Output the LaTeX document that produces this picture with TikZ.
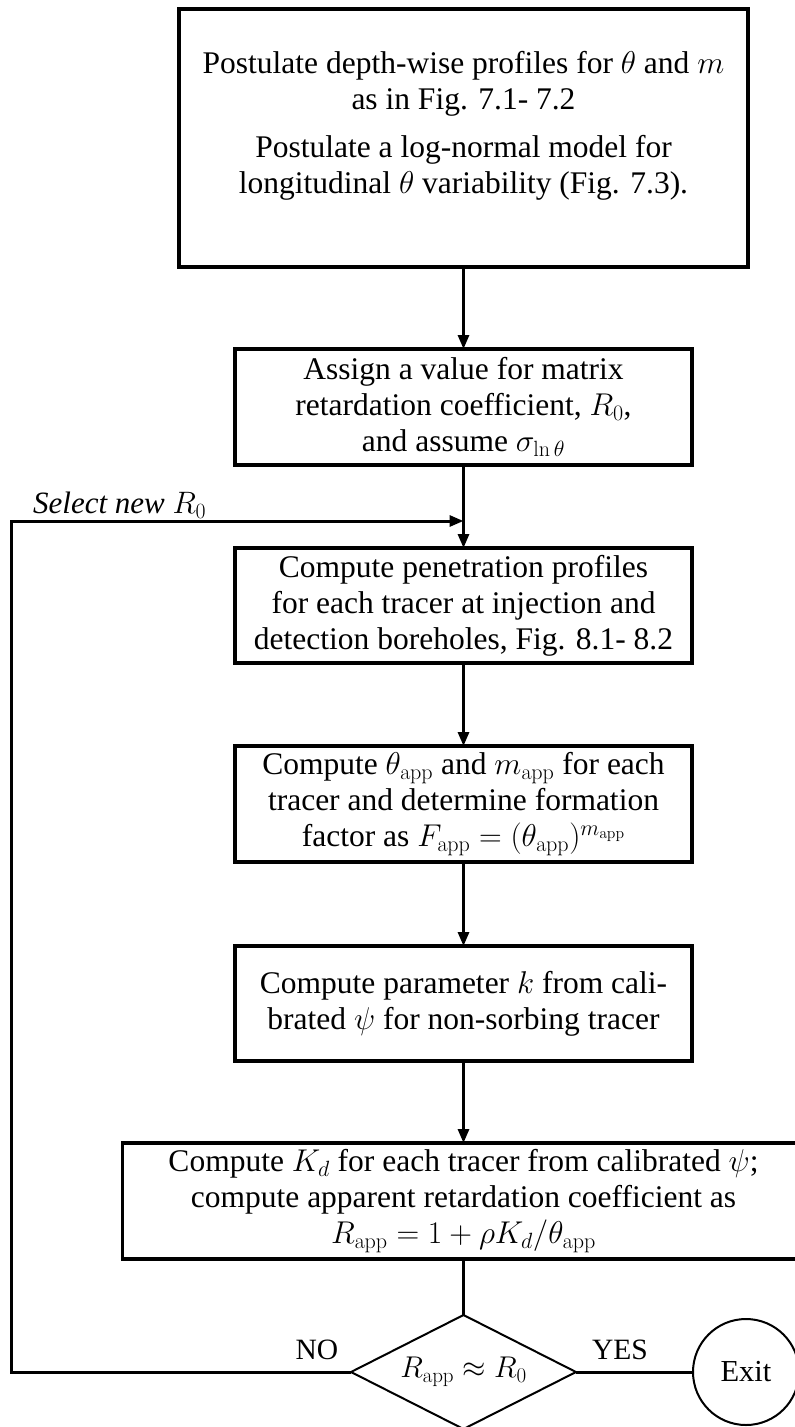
\RequirePackage{fix-cm}
\documentclass[tikz,border=0pt]{standalone}
\usepackage[no-math]{fontspec}
\setmainfont{Liberation Serif}
\usetikzlibrary{shapes.geometric,arrows.meta}
\begin{document}
\begin{tikzpicture}[x=1pt,y=-1pt,
  procbox/.style={draw, line width=3.5pt, inner sep=0pt, outer sep=0pt, rectangle,
    align=center, font=\fontsize{31.5}{36}\selectfont},
  firsttext/.style={inner sep=0pt, align=center, font=\fontsize{31.5}{36}\selectfont},
  conn/.style={line width=3pt},
  arrowconn/.style={line width=3pt, -{Triangle[length=14pt,width=11pt]}},
  lbl/.style={inner sep=0pt, font=\fontsize{29.5}{34}\selectfont},
  decision/.style={draw, diamond, line width=2pt, inner sep=0pt, outer sep=0pt,
    minimum width=225pt, minimum height=114pt, shape aspect=1.97,
    font=\fontsize{30}{34}\selectfont},
  exitnode/.style={draw, circle, line width=2pt, inner sep=0pt, outer sep=0pt,
    minimum size=106pt, font=\fontsize{30.5}{34}\selectfont}
]
\useasboundingbox (0,0) rectangle (795,1427);
\clip (0,0) rectangle (795,1427);

\node[procbox, minimum width=569pt, minimum height=258pt] (b1) at (463.5,138) {};
\node[firsttext] (b1t) at (463.5,126) {Postulate depth-wise profiles for $\theta$ and $m$\\ as in Fig. 7.1- 7.2\\[12pt] Postulate a log-normal model for\\ longitudinal $\theta$ variability (Fig. 7.3).};

\node[procbox, minimum width=457pt, minimum height=116pt] (b2) at (463.5,407)
  {Assign a value for matrix\\ retardation coefficient, $R_0$,\\ and assume $\sigma_{\ln\theta}$};

\node[procbox, minimum width=457pt, minimum height=115pt] (b3) at (463.5,605.5)
  {Compute penetration profiles\\ for each tracer at injection and\\ detection boreholes, Fig. 8.1- 8.2};

\node[procbox, minimum width=457pt, minimum height=116pt] (b4) at (463.5,804)
  {Compute $\theta_{\rm app}$ and $m_{\rm app}$ for each\\ tracer and determine formation\\ factor as $F_{\rm app}=(\theta_{\rm app})^{m_{\rm app}}$};

\node[procbox, minimum width=457pt, minimum height=115pt] (b5) at (463.5,1003.5)
  {Compute parameter $k$ from cali-\\ brated $\psi$ for non-sorbing tracer};

\node[procbox, minimum width=682pt, minimum height=116pt] (b6) at (463.5,1201)
  {Compute $K_d$ for each tracer from calibrated $\psi$;\\ compute apparent retardation coefficient as\\ $R_{\rm app}=1+\rho K_d/\theta_{\rm app}$};

\node[decision] (dec) at (463.5,1372) {$R_{\rm app}\approx R_0$};
\node[exitnode] (ex) at (746,1372) {Exit};

\node[lbl] (no) at (317,1350) {NO};
\node[lbl] (yes) at (620,1350) {YES};
\node[inner sep=0pt, anchor=west, font=\fontsize{31}{34}\selectfont\itshape] (sel) at (33,505) {Select new $R_0$};

\coordinate (j) at (463.5,521);
\coordinate (cl) at (11,1372);

\draw[arrowconn] (b1.south) -- (b2.north);
\draw[arrowconn] (b2.south) -- (b3.north);
\draw[arrowconn] (b3.south) -- (b4.north);
\draw[arrowconn] (b4.south) -- (b5.north);
\draw[arrowconn] (b5.south) -- (b6.north);
\draw[conn] (b6.south) -- (dec.north);
\draw[conn] (dec.east) -- (ex.west);
\draw[arrowconn] (dec.west) -- (cl) |- (j);
\end{tikzpicture}
\end{document}
